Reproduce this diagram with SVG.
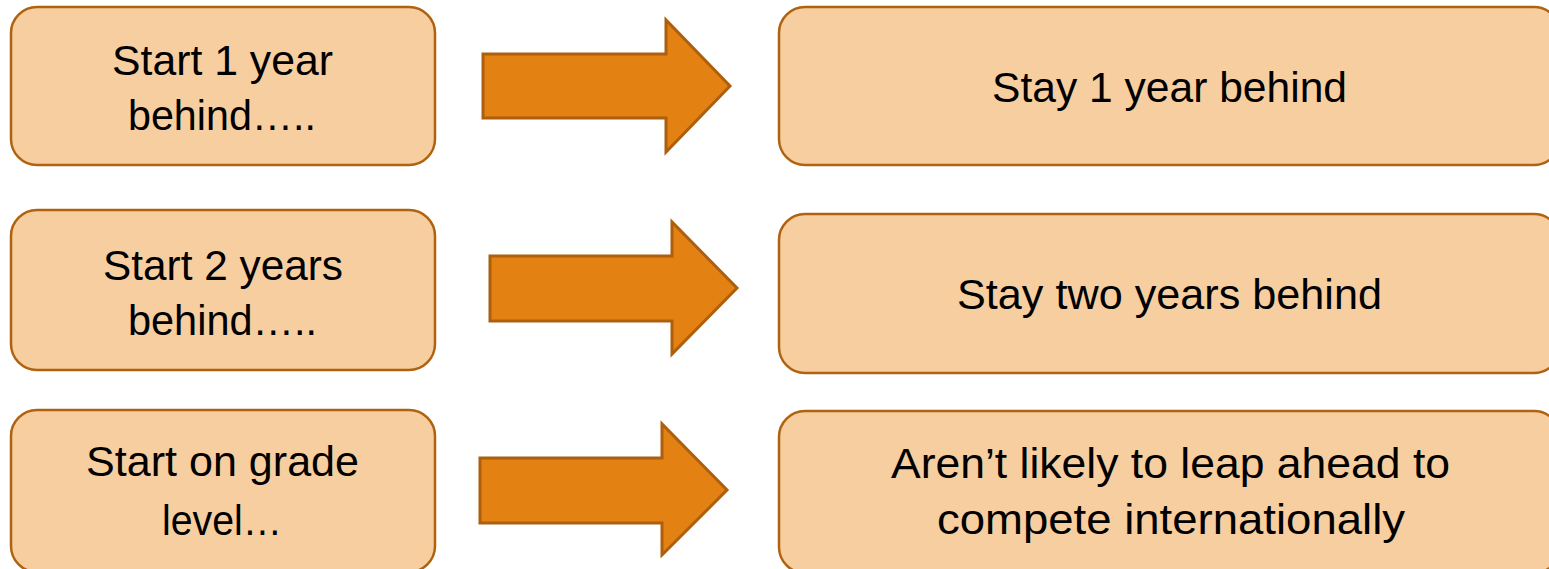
<svg xmlns="http://www.w3.org/2000/svg" width="1549" height="569" viewBox="0 0 1549 569">
<style>
.box{fill:#F7CE9F;stroke:#B1620F;stroke-width:2.5}
.arr{fill:#E38212;stroke:#AE5F0E;stroke-width:3;stroke-linejoin:miter}
text{font-family:"Liberation Sans",Arial,sans-serif;font-size:42px;fill:#000;text-anchor:middle}
</style>
<rect width="1549" height="569" fill="#fff"/>
<g id="start1">
<rect class="box" x="11" y="7" width="424" height="158" rx="26"/>
<text x="222.5" y="75" textLength="221" lengthAdjust="spacingAndGlyphs">Start 1 year</text>
<text x="222" y="130" textLength="188" lengthAdjust="spacingAndGlyphs">behind…..</text>
</g>
<g id="start2">
<rect class="box" x="11" y="210" width="424" height="160" rx="26"/>
<text x="223" y="280" textLength="240" lengthAdjust="spacingAndGlyphs">Start 2 years</text>
<text x="222.5" y="335" textLength="189" lengthAdjust="spacingAndGlyphs">behind…..</text>
</g>
<g id="start3">
<rect class="box" x="11" y="410" width="424" height="162" rx="26"/>
<text x="222.5" y="476" textLength="273" lengthAdjust="spacingAndGlyphs">Start on grade</text>
<text x="222" y="535" textLength="120" lengthAdjust="spacingAndGlyphs">level…</text>
</g>
<g id="stay1">
<rect class="box" x="779" y="7" width="781" height="158" rx="26"/>
<text x="1169.5" y="102" textLength="355" lengthAdjust="spacingAndGlyphs">Stay 1 year behind</text>
</g>
<g id="stay2">
<rect class="box" x="779" y="214" width="781" height="159" rx="26"/>
<text x="1169.5" y="309" textLength="425" lengthAdjust="spacingAndGlyphs">Stay two years behind</text>
</g>
<g id="compete">
<rect class="box" x="779" y="411" width="781" height="162" rx="26"/>
<text x="1170.5" y="478" textLength="559" lengthAdjust="spacingAndGlyphs">Aren’t likely to leap ahead to</text>
<text x="1171" y="534" textLength="468" lengthAdjust="spacingAndGlyphs">compete internationally</text>
</g>
<g id="connectors">
<polygon class="arr" points="483,54 666,54 666,20 730,86 666,152 666,118 483,118"/>
<polygon class="arr" points="490,256 672,256 672,222 737,288 672,354 672,321 490,321"/>
<polygon class="arr" points="480,458 662,458 662,424 727,490 662,555 662,523 480,523"/>
</g>
</svg>
